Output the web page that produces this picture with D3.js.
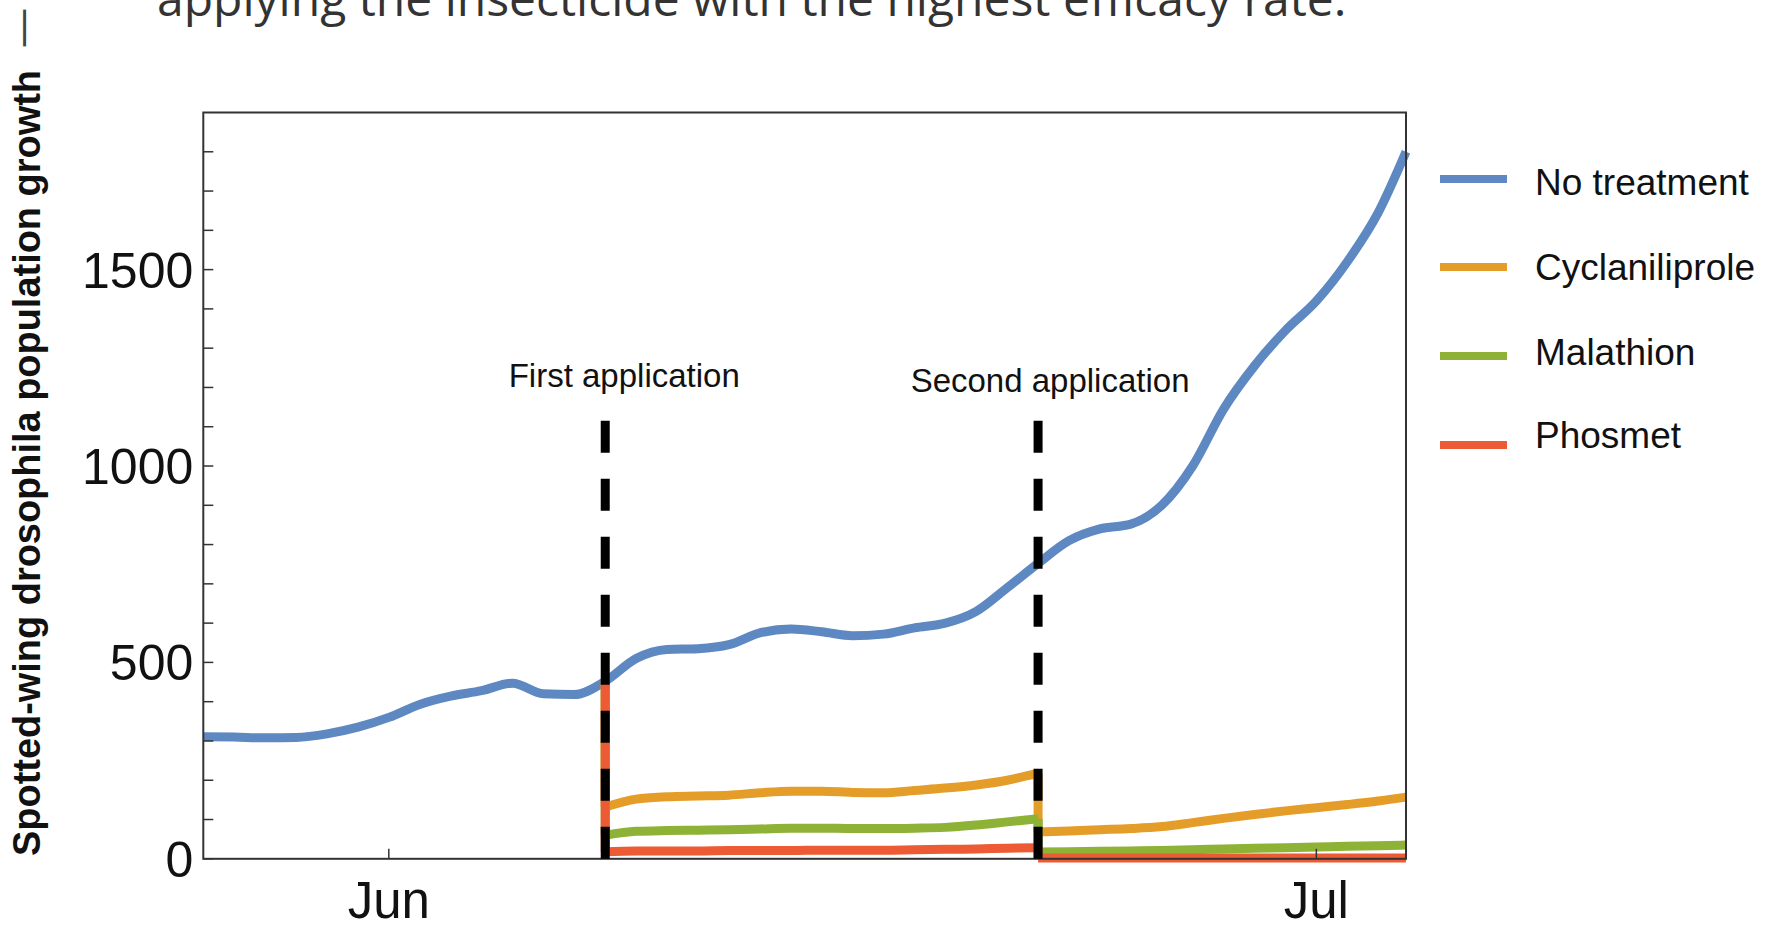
<!DOCTYPE html>
<html>
<head>
<meta charset="utf-8">
<script src="https://cdn.jsdelivr.net/npm/d3@7"></script>
<style>
  html, body { margin: 0; padding: 0; background: #ffffff; }
  svg { display: block; }
</style>
</head>
<body>
<svg id="chart" width="1767" height="929"></svg>
<script>
// ---------------- DATA ----------------
const seriesNames = ["No treatment", "Cyclaniliprole", "Malathion", "Phosmet"];

const dates = [
  "2018-05-26","2018-05-27","2018-05-28","2018-05-29","2018-05-30","2018-05-31",
  "2018-06-01","2018-06-02","2018-06-03","2018-06-04","2018-06-05","2018-06-06","2018-06-07",
  "2018-06-08","2018-06-09","2018-06-10","2018-06-11","2018-06-12","2018-06-13","2018-06-14",
  "2018-06-15","2018-06-16","2018-06-17","2018-06-18","2018-06-19","2018-06-20","2018-06-21",
  "2018-06-22","2018-06-23","2018-06-24","2018-06-25","2018-06-26","2018-06-27","2018-06-28",
  "2018-06-29","2018-06-30","2018-07-01","2018-07-02","2018-07-03","2018-07-03T21:36"
];
const noTreatment = [
  311, 310, 308, 309, 318, 335,
  360, 393, 414, 428, 447, 420, 418,
  452, 510, 533, 535, 545, 575, 585,
  578, 568, 572, 588, 600, 630, 690,
  752, 810, 840, 852, 900, 1000, 1145,
  1255, 1345, 1420, 1520, 1645, 1800
];

// after first application (Jun 8 – Jun 22)
const period1Dates = [
  "2018-06-08","2018-06-09","2018-06-10","2018-06-11","2018-06-12","2018-06-13","2018-06-14",
  "2018-06-15","2018-06-16","2018-06-17","2018-06-18","2018-06-19","2018-06-20","2018-06-21","2018-06-22"
];
const cyclaniliprole1 = [132, 152, 158, 160, 162, 168, 172, 172, 169, 168, 174, 180, 188, 200, 218];
const malathion1      = [ 60,  70,  72,  73,  74,  76,  78,  78,  77,  77,  78,  80,  86,  94, 102];
const phosmet1        = [ 18,  20,  20,  20,  21,  21,  21,  22,  22,  22,  23,  24,  25,  27,  28];

// after second application (Jun 22 – end)
const period2Dates = [
  "2018-06-22","2018-06-23","2018-06-24","2018-06-25","2018-06-26","2018-06-27","2018-06-28",
  "2018-06-29","2018-06-30","2018-07-01","2018-07-02","2018-07-03","2018-07-03T21:36"
];
const cyclaniliprole2 = [68, 71, 74, 77, 82, 92, 103, 113, 122, 130, 138, 147, 157];
const malathion2      = [17, 18, 19, 20, 21, 23, 25, 27, 28, 30, 32, 33, 35];
const phosmet2        = [ 2,  2,  2,  2,  2,  2,  2,  2,  2,  2,  2,  2,  2];

const applicationDates  = ["2018-06-08", "2018-06-22"];
const applicationLabels = ["First application", "Second application"];
const applicationTop    = 1115;

const yMajorTicks = [0, 500, 1000, 1500];
const yMinorTicks = [100,200,300,400,600,700,800,900,1100,1200,1300,1400,1600,1700,1800];
const xTickDates  = ["2018-06-01", "2018-07-01"];
const xTickLabels = ["Jun", "Jul"];
const xDomain = ["2018-05-26", "2018-07-03T21:36"];
const yDomain = [0, 1900];

const yTitle = "Spotted-wing drosophila population growth";
const topText = "applying the insecticide with the highest efficacy rate.";

// ---------------- DRAW ----------------
const p1 = d3.timeParse("%Y-%m-%d"), p2 = d3.timeParse("%Y-%m-%dT%H:%M");
const parse = s => s.length > 10 ? p2(s) : p1(s);

const colors = ["#5d88c2", "#e49d28", "#8db236", "#ec5b33"];
const L = 203.3, R = 1406, T = 112.5, B = 858.8;
const SW = 9;

const svg = d3.select("#chart");
const x = d3.scaleTime().domain(xDomain.map(parse)).range([L, R]);
const y = d3.scaleLinear().domain(yDomain).range([B, T]);

// top cropped text
svg.append("text")
  .attr("x", 157).attr("y", 16)
  .attr("font-family", "'Open Sans', sans-serif")
  .attr("font-size", 48).attr("fill", "#333")
  .text(topText);

// y title
svg.append("text")
  .attr("transform", `translate(40,463) rotate(-90)`)
  .attr("text-anchor", "middle")
  .attr("font-family", "'Liberation Sans', Arial, sans-serif")
  .attr("font-weight", "bold")
  .attr("font-size", 39).attr("fill", "#111")
  .attr("textLength", 786).attr("lengthAdjust", "spacingAndGlyphs")
  .text(yTitle);
svg.append("text")
  .attr("transform", `translate(35,28) rotate(-90)`)
  .attr("text-anchor", "middle")
  .attr("font-family", "'Open Sans', sans-serif")
  .attr("font-size", 40).attr("fill", "#444")
  .text("—");

// lines
const line = d3.line().x(d => x(d[0])).y(d => y(d[1])).curve(d3.curveMonotoneX);
const straight = d3.line().x(d => x(d[0])).y(d => y(d[1]));
const zipD = (ds, vs) => ds.map((d, i) => [parse(d), vs[i]]);

const g = svg.append("g");
g.append("path").attr("d", line(zipD(dates, noTreatment)))
  .attr("fill", "none").attr("stroke", colors[0]).attr("stroke-width", SW);

const treated = [
  [cyclaniliprole1, cyclaniliprole2],
  [malathion1, malathion2],
  [phosmet1, phosmet2]
];
const app1 = parse(applicationDates[0]), app2 = parse(applicationDates[1]);
const blueAtApp1 = noTreatment[dates.indexOf(applicationDates[0])];
treated.forEach((s, i) => {
  const c = colors[i + 1];
  const seg = [
    [[app1, blueAtApp1], [app1, s[0][0]]],
    [[app2, s[0][s[0].length - 1]], [app2, s[1][0]]]
  ];
  seg.forEach(sg => g.append("path").attr("d", straight(sg))
    .attr("fill", "none").attr("stroke", c).attr("stroke-width", SW));
  g.append("path").attr("d", line(zipD(period1Dates, s[0])))
    .attr("fill", "none").attr("stroke", c).attr("stroke-width", SW);
  g.append("path").attr("d", line(zipD(period2Dates, s[1])))
    .attr("fill", "none").attr("stroke", c).attr("stroke-width", SW);
});

// frame
svg.append("rect").attr("x", L).attr("y", T).attr("width", R - L).attr("height", B - T)
  .attr("fill", "none").attr("stroke", "#333").attr("stroke-width", 2);

// y ticks
svg.append("g").selectAll("line").data(yMajorTicks.concat(yMinorTicks)).join("line")
  .attr("x1", L).attr("x2", L + 10)
  .attr("y1", d => y(d)).attr("y2", d => y(d))
  .attr("stroke", "#333").attr("stroke-width", 1.5);
svg.append("g").selectAll("text").data(yMajorTicks).join("text")
  .attr("x", L - 10).attr("y", d => y(d)).attr("dy", "0.36em")
  .attr("text-anchor", "end")
  .attr("font-family", "'Liberation Sans', Arial, sans-serif")
  .attr("font-size", 50).attr("fill", "#111")
  .text(d => d);

// x ticks
svg.append("g").selectAll("line").data(xTickDates).join("line")
  .attr("x1", d => x(parse(d))).attr("x2", d => x(parse(d)))
  .attr("y1", B).attr("y2", B - 10)
  .attr("stroke", "#333").attr("stroke-width", 1.5);
svg.append("g").selectAll("text").data(xTickDates).join("text")
  .attr("x", d => x(parse(d))).attr("y", 918)
  .attr("text-anchor", "middle")
  .attr("font-family", "'Liberation Sans', Arial, sans-serif")
  .attr("font-size", 51).attr("fill", "#111")
  .text((d, i) => xTickLabels[i]);

// application dashed lines
svg.append("g").selectAll("line").data(applicationDates).join("line")
  .attr("x1", d => x(parse(d))).attr("x2", d => x(parse(d)))
  .attr("y1", y(0)).attr("y2", y(applicationTop))
  .attr("stroke", "#000").attr("stroke-width", 9)
  .attr("stroke-dasharray", "32,26");
const labelDx = [19, 12], labelY = [387, 392];
svg.append("g").selectAll("text").data(applicationDates).join("text")
  .attr("x", (d, i) => x(parse(d)) + labelDx[i]).attr("y", (d, i) => labelY[i])
  .attr("text-anchor", "middle")
  .attr("font-family", "'Liberation Sans', Arial, sans-serif")
  .attr("font-size", 33).attr("fill", "#111")
  .text((d, i) => applicationLabels[i]);

// legend
const legY = [179, 267, 356, 445], legTextY = [195, 280, 365, 448];
const leg = svg.append("g");
leg.selectAll("line").data(seriesNames).join("line")
  .attr("x1", 1440).attr("x2", 1507)
  .attr("y1", (d, i) => legY[i]).attr("y2", (d, i) => legY[i])
  .attr("stroke", (d, i) => colors[i]).attr("stroke-width", 8);
leg.selectAll("text").data(seriesNames).join("text")
  .attr("x", 1535).attr("y", (d, i) => legTextY[i])
  .attr("font-family", "'Liberation Sans', Arial, sans-serif")
  .attr("font-size", 37).attr("fill", "#111")
  .text(d => d);
</script>
</body>
</html>
